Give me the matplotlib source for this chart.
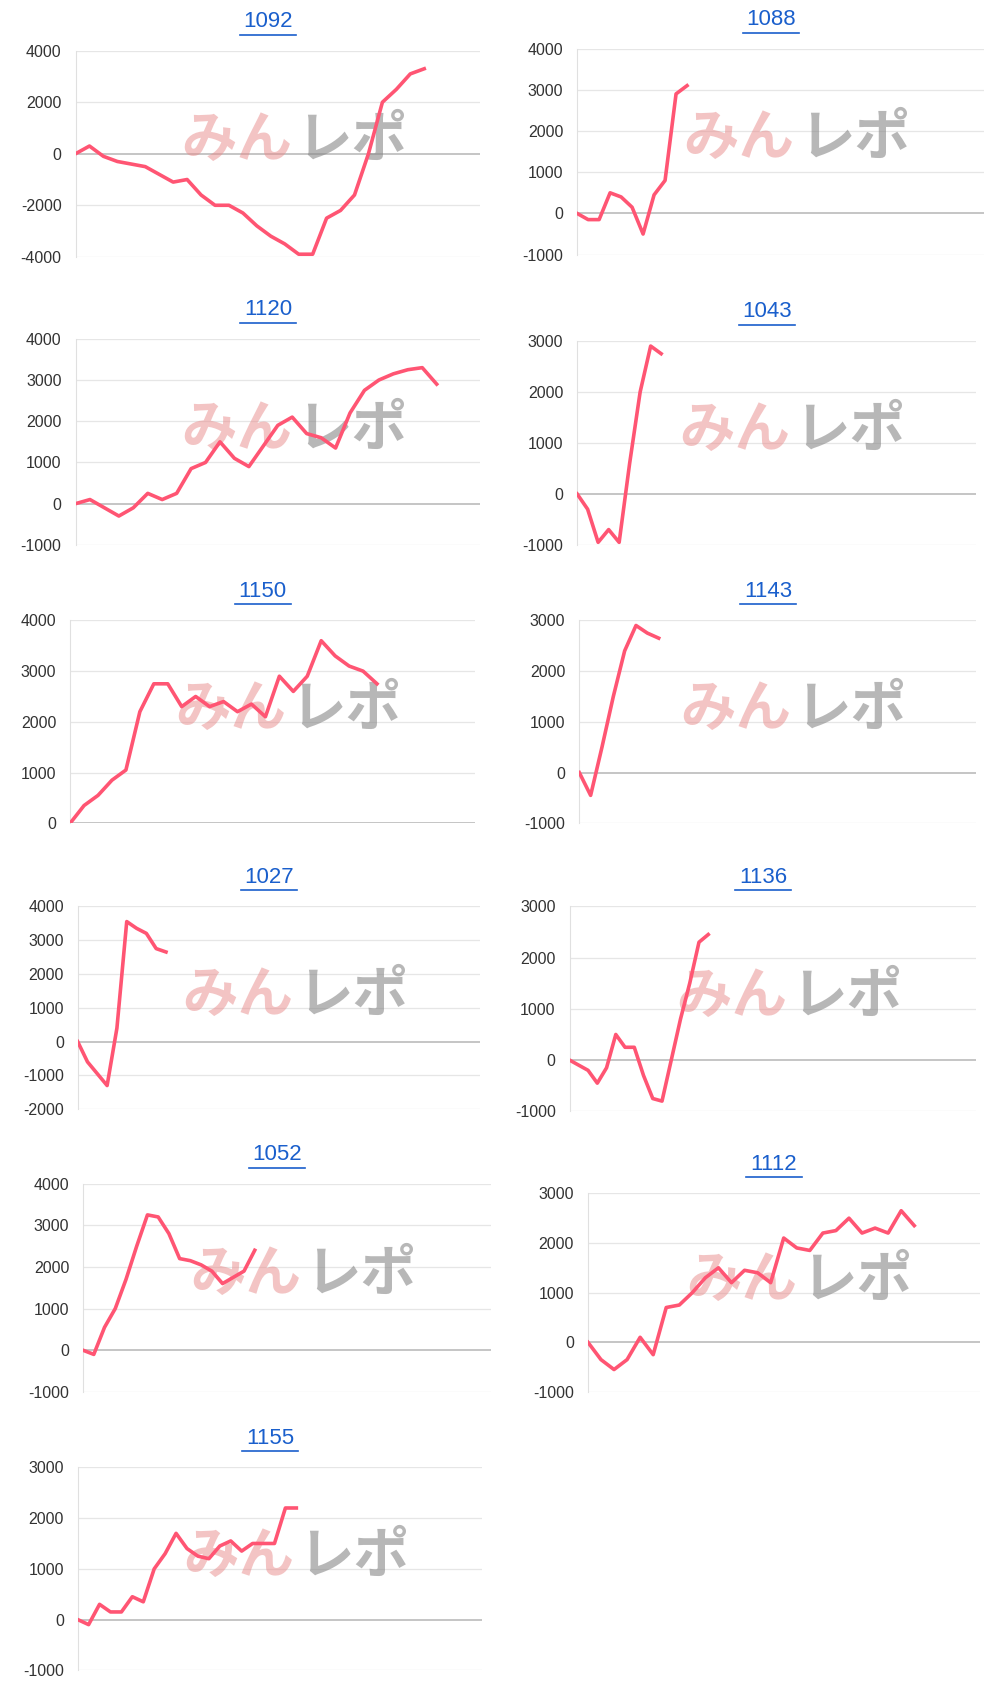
import matplotlib
matplotlib.use("Agg")
import matplotlib.pyplot as plt

plt.rcParams['font.family'] = ['Liberation Sans', 'Noto Sans CJK JP', 'DejaVu Sans']

titles = ["1092","1088","1120","1043","1150","1143","1027","1136","1052","1112","1155"]
s1092 = [0,300,-100,-300,-400,-500,-800,-1100,-1000,-1600,-2000,-2000,-2300,-2800,-3200,-3500,-3900,-3900,-2500,-2200,-1600,0,2000,2500,3100,3300]
s1088 = [0,-150,-150,500,400,150,-500,450,800,2900,3100]
s1120 = [0,100,-100,-300,-100,250,100,250,850,1000,1500,1100,900,1400,1900,2100,1700,1600,1350,2200,2750,3000,3150,3250,3300,2900]
s1043 = [0,-300,-950,-700,-950,600,2000,2900,2750]
s1150 = [0,350,550,850,1050,2200,2750,2750,2300,2500,2300,2400,2200,2350,2100,2900,2600,2900,3600,3300,3100,3000,2750]
s1143 = [0,-450,500,1500,2400,2900,2750,2650]
s1027 = [0,-600,-950,-1300,400,3550,3350,3200,2750,2650]
s1136 = [0,-100,-200,-450,-150,500,250,250,-300,-750,-800,0,800,1500,2300,2450]
s1052 = [0,-100,550,1000,1700,2500,3250,3200,2800,2200,2150,2050,1900,1600,1750,1900,2400]
s1112 = [0,-350,-550,-350,100,-250,700,750,1000,1300,1500,1200,1450,1400,1200,2100,1900,1850,2200,2250,2500,2200,2300,2200,2650,2350]
s1155 = [0,-100,300,150,150,450,350,1000,1300,1700,1400,1250,1200,1450,1550,1350,1500,1500,1500,2200,2200]
series = [s1092,s1088,s1120,s1043,s1150,s1143,s1027,s1136,s1052,s1112,s1155]
yticks = [
    [-4000,-2000,0,2000,4000],
    [-1000,0,1000,2000,3000,4000],
    [-1000,0,1000,2000,3000,4000],
    [-1000,0,1000,2000,3000],
    [0,1000,2000,3000,4000],
    [-1000,0,1000,2000,3000],
    [-2000,-1000,0,1000,2000,3000,4000],
    [-1000,0,1000,2000,3000],
    [-1000,0,1000,2000,3000,4000],
    [-1000,0,1000,2000,3000],
    [-1000,0,1000,2000,3000],
]
xmax = [29,37,28,38,29,35,41,44,38,30,37]

rects = [
    (70,445,47,238),(535,912,45,236),
    (70,445,314,505),(535,905,316,505),
    (65,440,575,763),(537,905,575,763),
    (72,445,840,1028),(528,905,840,1030),
    (77,455,1097,1290),(545,908,1106,1290),
    (72,447,1360,1548),
]
W, H = 927, 1570
fig = plt.figure(figsize=(10, 16.94), dpi=100)
for i, t in enumerate(titles):
    l, r, tp, b = rects[i]
    ax = fig.add_axes([l/W, 1-b/H, (r-l)/W, (b-tp)/H])
    ys = series[i]
    ax.plot(range(len(ys)), ys, color='#ff5573', lw=2.6, zorder=3)
    yt = yticks[i]
    ax.set_ylim(yt[0], yt[-1])
    ax.set_xlim(0, xmax[i])
    ax.set_yticks(yt)
    ax.set_yticklabels([str(v) for v in yt], fontsize=11.5, color='#333333')
    ax.set_xticks([])
    ax.tick_params(axis='y', length=0, pad=10)
    for v in yt:
        ax.axhline(v, color='#bbbbbb' if v == 0 else '#e6e6e6', lw=1.2 if v == 0 else 0.9, zorder=1)
    for s in ['top','right','bottom']:
        ax.spines[s].set_visible(False)
    ax.spines['left'].set_color('#e0e0e0')
    ax.text(0.535, 0.56, 'みん', transform=ax.transAxes, fontsize=40, fontweight='bold',
            family='Noto Sans CJK JP', color='#e88a8a', alpha=0.5, ha='right', va='center', zorder=2)
    ax.text(0.545, 0.56, 'レポ', transform=ax.transAxes, fontsize=40, fontweight='bold',
            family='Noto Sans CJK JP', color='#888888', alpha=0.6, ha='left', va='center', zorder=2)
    cx = ((l + r) / 2 - 9) / W
    ty = 1 - (tp - 27) / H
    fig.text(cx, ty, t, fontsize=16, color='#1a5fcc', ha='center', va='center')
    fig.add_artist(plt.Line2D([cx - 0.028, cx + 0.028], [ty - 0.0078, ty - 0.0078], color='#1a5fcc', lw=1.2))

fig.savefig('out.png', dpi=100, facecolor='white')
